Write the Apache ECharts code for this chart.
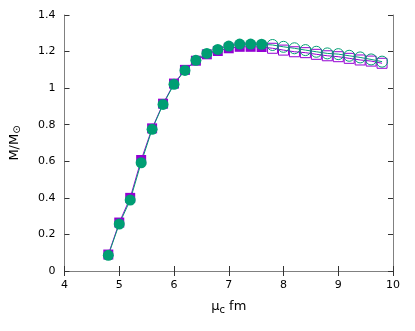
<!DOCTYPE html>
<html><head><meta charset="utf-8">
<script src="https://cdn.jsdelivr.net/npm/echarts@6/dist/echarts.min.js"></script>
<style>html,body{margin:0;padding:0;background:#fff}#c{width:415px;height:331px}</style>
</head><body><div id="c"></div>
<script>
const muC = [4.8,5.0,5.2,5.4,5.6,5.8,6.0,6.2,6.4,6.6,6.8,7.0,7.2,7.4,7.6,7.8,8.0,8.2,8.4,8.6,8.8,9.0,9.2,9.4,9.6,9.8];
const massSquares = [0.09,0.265,0.40,0.607,0.78,0.915,1.025,1.10,1.15,1.185,1.203,1.218,1.226,1.226,1.225,1.218,1.208,1.199,1.194,1.185,1.177,1.172,1.163,1.154,1.148,1.136];
const massCircles = [0.086,0.257,0.388,0.592,0.775,0.911,1.021,1.097,1.152,1.19,1.212,1.23,1.241,1.241,1.24,1.236,1.226,1.218,1.208,1.199,1.19,1.186,1.177,1.168,1.157,1.145];
const stableCount = 15; // filled markers up to 7.6
const xTicks = [4,5,6,7,8,9,10];
const yTicks = [0,0.2,0.4,0.6,0.8,1,1.2,1.4];

const purple = '#9400d3', green = '#009e73';
const pairs = (ys, from, to) => muC.slice(from, to).map((x, i) => [x, ys[from + i]]);
const font = 'DejaVu Sans';
const axisCommon = {
  axisLine: {show: true, lineStyle: {color: '#808080', width: 1}},
  axisTick: {show: true, inside: true, length: 5, lineStyle: {color: '#333'}},
  splitLine: {show: false}
};
const chart = echarts.init(document.getElementById('c'));
chart.setOption({
  animation: false,
  grid: {left: 64, right: 22, top: 15, bottom: 60},
  xAxis: [
    Object.assign({type: 'value', min: 4, max: 10, interval: 1, position: 'bottom',
      axisLabel: {color: '#000', fontFamily: font, fontSize: 11, margin: 9},
      name: 'μ{sub|c} fm', nameLocation: 'middle', nameGap: 28,
      nameTextStyle: {color: '#000', fontFamily: font, fontSize: 13,
        rich: {sub: {fontFamily: font, fontSize: 10, verticalAlign: 'bottom', padding: [6,0,0,0]}}}
    }, axisCommon),
    Object.assign({type: 'value', min: 4, max: 10, interval: 1, position: 'top', axisLabel: {show: false}}, axisCommon)
  ],
  yAxis: [
    Object.assign({type: 'value', min: 0, max: 1.4, interval: 0.2, position: 'left',
      axisLabel: {color: '#000', fontFamily: font, fontSize: 11, margin: 9,
        formatter: v => String(Math.round(v * 10) / 10)},
      name: 'M/M{sub|⊙}', nameLocation: 'middle', nameGap: 42, nameRotate: 90,
      nameTextStyle: {color: '#000', fontFamily: font, fontSize: 13,
        rich: {sub: {fontFamily: font, fontSize: 10, padding: [6,0,0,0]}}}
    }, axisCommon),
    Object.assign({type: 'value', min: 0, max: 1.4, interval: 0.2, position: 'right', axisLabel: {show: false}}, axisCommon)
  ],
  series: [
    {type: 'line', data: pairs(massSquares, 0, muC.length), showSymbol: false, lineStyle: {color: purple, width: 1}, z: 2},
    {type: 'line', data: pairs(massCircles, 0, muC.length), showSymbol: false, lineStyle: {color: green, width: 1}, z: 2},
    {type: 'scatter', data: pairs(massSquares, 0, stableCount), symbol: 'rect', symbolSize: 10,
      itemStyle: {color: purple, opacity: 1}, z: 3},
    {type: 'scatter', data: pairs(massSquares, stableCount, muC.length), symbol: 'rect', symbolSize: 10,
      itemStyle: {color: 'rgba(0,0,0,0)', borderColor: purple, borderWidth: 1, opacity: 1}, z: 3},
    {type: 'scatter', data: pairs(massCircles, 0, stableCount), symbol: 'circle', symbolSize: 11,
      itemStyle: {color: green, opacity: 1}, z: 4},
    {type: 'scatter', data: pairs(massCircles, stableCount, muC.length), symbol: 'circle', symbolSize: 11,
      itemStyle: {color: 'rgba(0,0,0,0)', borderColor: green, borderWidth: 1, opacity: 1}, z: 4}
  ]
});
</script></body></html>
